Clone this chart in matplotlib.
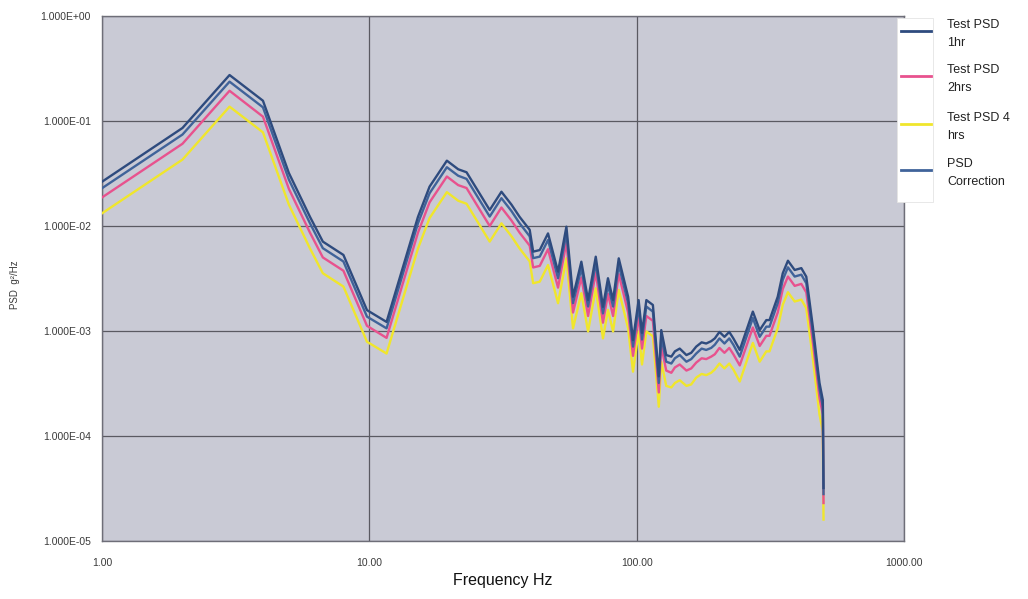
import matplotlib
matplotlib.use("Agg")
import matplotlib.pyplot as plt
from matplotlib.lines import Line2D
from matplotlib.patches import Rectangle
from matplotlib.ticker import FixedLocator, NullLocator

# Frequency points (Hz)
freq = [1, 2, 3, 4, 5, 6, 6.7, 8, 9.8, 11.6,
        15.2, 16.8, 19.5, 21.5, 23.1, 28.2, 31.2, 34, 36.5, 39.8,
        41, 43.4, 46.6, 50.8, 54.6, 57.8, 62.1, 65.8, 70.3, 74.8,
        78.1, 81.6, 85.7, 92.9, 96.9, 101.7, 104.7, 108.7, 115, 121,
        123.6, 129, 134.8, 139, 144.9, 153.5, 160, 167, 175, 182,
        190, 196, 204, 213, 222, 230, 243, 272, 288.5, 305.5,
        314, 337, 352, 368, 390, 413, 431, 456, 483, 497,
        500]

psd_1hr = [0.0264, 0.0858, 0.274, 0.156, 0.032, 0.0122, 0.0071, 0.0053, 0.00158, 0.00122,
           0.0122, 0.0237, 0.0419, 0.0347, 0.0325, 0.0142, 0.0212, 0.0160, 0.0122, 0.0092,
           0.0057, 0.0059, 0.0085, 0.00367, 0.00985, 0.00212, 0.00457, 0.00197, 0.0051, 0.0017,
           0.00318, 0.00197, 0.00492, 0.00212, 0.00082, 0.00197, 0.00096, 0.00197, 0.00177, 0.00037,
           0.00102, 0.00059, 0.00057, 0.00064, 0.00068, 0.00059, 0.00062, 0.00071, 0.00078, 0.00076,
           0.0008, 0.00085, 0.00098, 0.00088, 0.00098, 0.00085, 0.00066, 0.00153, 0.00102, 0.00127,
           0.00127, 0.00212, 0.00355, 0.00467, 0.00381, 0.00397, 0.00329, 0.0011, 0.00032, 0.00022,
           0.000032]

psd_correction = [0.0229, 0.0743, 0.237, 0.135, 0.0277, 0.0106, 0.00615, 0.00459, 0.00137, 0.00106,
                  0.0106, 0.0205, 0.0363, 0.0301, 0.0281, 0.0123, 0.0184, 0.0139, 0.0106, 0.00797,
                  0.00494, 0.00511, 0.00736, 0.00318, 0.00853, 0.00184, 0.00396, 0.00171, 0.00442, 0.00147,
                  0.00275, 0.00171, 0.00426, 0.00184, 0.00071, 0.00171, 0.00083, 0.00171, 0.00153, 0.00032,
                  0.00088, 0.00051, 0.00049, 0.00055, 0.00059, 0.00051, 0.00054, 0.00061, 0.00068, 0.00066,
                  0.00069, 0.00074, 0.00085, 0.00076, 0.00085, 0.00074, 0.00057, 0.00133, 0.00088, 0.0011,
                  0.0011, 0.00184, 0.00307, 0.00404, 0.0033, 0.00344, 0.00285, 0.00095, 0.00028, 0.00019,
                  0.000028]

psd_2hrs = [0.0187, 0.0607, 0.194, 0.110, 0.0226, 0.00863, 0.00502, 0.00375, 0.00112, 0.00086,
            0.00863, 0.0168, 0.0296, 0.0245, 0.0230, 0.0100, 0.0150, 0.0113, 0.00863, 0.0065,
            0.00403, 0.00417, 0.00601, 0.00259, 0.00696, 0.0015, 0.00323, 0.00139, 0.00361, 0.0012,
            0.00225, 0.00139, 0.00348, 0.0015, 0.00058, 0.00139, 0.00068, 0.00139, 0.00125, 0.00026,
            0.00072, 0.00042, 0.0004, 0.00045, 0.00048, 0.00042, 0.00044, 0.0005, 0.00055, 0.00054,
            0.00057, 0.0006, 0.00069, 0.00062, 0.00069, 0.0006, 0.00047, 0.00108, 0.00072, 0.0009,
            0.0009, 0.0015, 0.00251, 0.0033, 0.00269, 0.00281, 0.00233, 0.00078, 0.00023, 0.00016,
            0.000023]

psd_4hrs = [0.0132, 0.0429, 0.137, 0.078, 0.016, 0.0061, 0.00355, 0.00265, 0.00079, 0.00061,
            0.0061, 0.0119, 0.021, 0.0174, 0.0163, 0.0071, 0.0106, 0.008, 0.0061, 0.0046,
            0.00285, 0.00295, 0.00425, 0.00184, 0.00493, 0.00106, 0.00229, 0.00099, 0.00255, 0.00085,
            0.00159, 0.00099, 0.00246, 0.00106, 0.00041, 0.00099, 0.00048, 0.00099, 0.00089, 0.00019,
            0.00051, 0.0003, 0.00029, 0.00032, 0.00034, 0.0003, 0.00031, 0.00036, 0.00039, 0.00038,
            0.0004, 0.00043, 0.00049, 0.00044, 0.00049, 0.00043, 0.00033, 0.00077, 0.00051, 0.00064,
            0.00064, 0.00106, 0.00178, 0.00234, 0.00191, 0.00199, 0.00165, 0.00055, 0.00016, 0.00011,
            0.000016]

x_ticks = [1, 10, 100, 1000]
x_tick_labels = ["1.00", "10.00", "100.00", "1000.00"]
y_ticks = [1e-5, 1e-4, 1e-3, 1e-2, 1e-1, 1e0]
y_tick_labels = ["1.000E-05", "1.000E-04", "1.000E-03", "1.000E-02", "1.000E-01", "1.000E+00"]

series_labels = [["Test PSD", "1hr"], ["Test PSD", "2hrs"], ["Test PSD 4", "hrs"], ["PSD", "Correction"]]
c_1hr = "#2e4b7e"
c_2hrs = "#e8528e"
c_4hrs = "#f0e62c"
c_corr = "#40639a"

plt.rcParams["font.family"] = ["Liberation Sans", "DejaVu Sans"]

fig = plt.figure(figsize=(10.28, 5.99), dpi=100)
fig.patch.set_facecolor("white")
W, H = 1028, 599
ax = fig.add_axes([102 / W, 1 - 541 / H, (904 - 102) / W, (541 - 16) / H])
ax.set_facecolor("#c9cad5")

lw = 1.7
ax.plot(freq, psd_4hrs, color=c_4hrs, lw=lw, zorder=3)
ax.plot(freq, psd_2hrs, color=c_2hrs, lw=lw, zorder=4)
ax.plot(freq, psd_correction, color=c_corr, lw=lw, zorder=5)
ax.plot(freq, psd_1hr, color=c_1hr, lw=lw, zorder=6)

ax.set_xscale("log")
ax.set_yscale("log")
ax.set_xlim(1, 1000)
ax.set_ylim(1e-5, 1)

ax.xaxis.set_major_locator(FixedLocator(x_ticks))
ax.xaxis.set_minor_locator(NullLocator())
ax.yaxis.set_major_locator(FixedLocator(y_ticks))
ax.yaxis.set_minor_locator(NullLocator())
ax.set_xticklabels(x_tick_labels)
ax.set_yticklabels(y_tick_labels)
ax.tick_params(axis="x", length=0, pad=12, labelsize=7.5, labelcolor="#3a3a3a")
ax.tick_params(axis="y", length=0, pad=8, labelsize=7.5, labelcolor="#3a3a3a")

ax.grid(True, which="major", color="#5a5a62", lw=0.9, zorder=1)
for s in ax.spines.values():
    s.set_color("#6e6e78")
    s.set_linewidth(1.0)

ax.set_xlabel("Frequency Hz", fontsize=11.5, color="#111111", labelpad=4)
fig.text(15 / W, 1 - 285 / H, "PSD  g²/Hz", rotation=90, ha="center", va="center",
         fontsize=7, color="#3a3a3a")

# Legend panel drawn in figure coordinates
fig.patches.append(Rectangle((897 / W, 1 - 202 / H), 36 / W, 184 / H,
                             transform=fig.transFigure, facecolor="white",
                             edgecolor="#e4e4e4", lw=0.6, zorder=10))
legend_colors = [c_1hr, c_2hrs, c_4hrs, c_corr]
legend_y = [31, 76, 124, 170]
for lab, col, y in zip(series_labels, legend_colors, legend_y):
    fig.add_artist(Line2D([901 / W, 931 / W], [1 - y / H, 1 - y / H],
                          transform=fig.transFigure, color=col, lw=2.0, zorder=11))
    fig.text(947 / W, 1 - (y - 6) / H, lab[0], ha="left", va="center",
             fontsize=9, color="#222222")
    fig.text(947 / W, 1 - (y + 12) / H, lab[1], ha="left", va="center",
             fontsize=9, color="#222222")

fig.savefig("out.png", dpi=100, facecolor="white")
